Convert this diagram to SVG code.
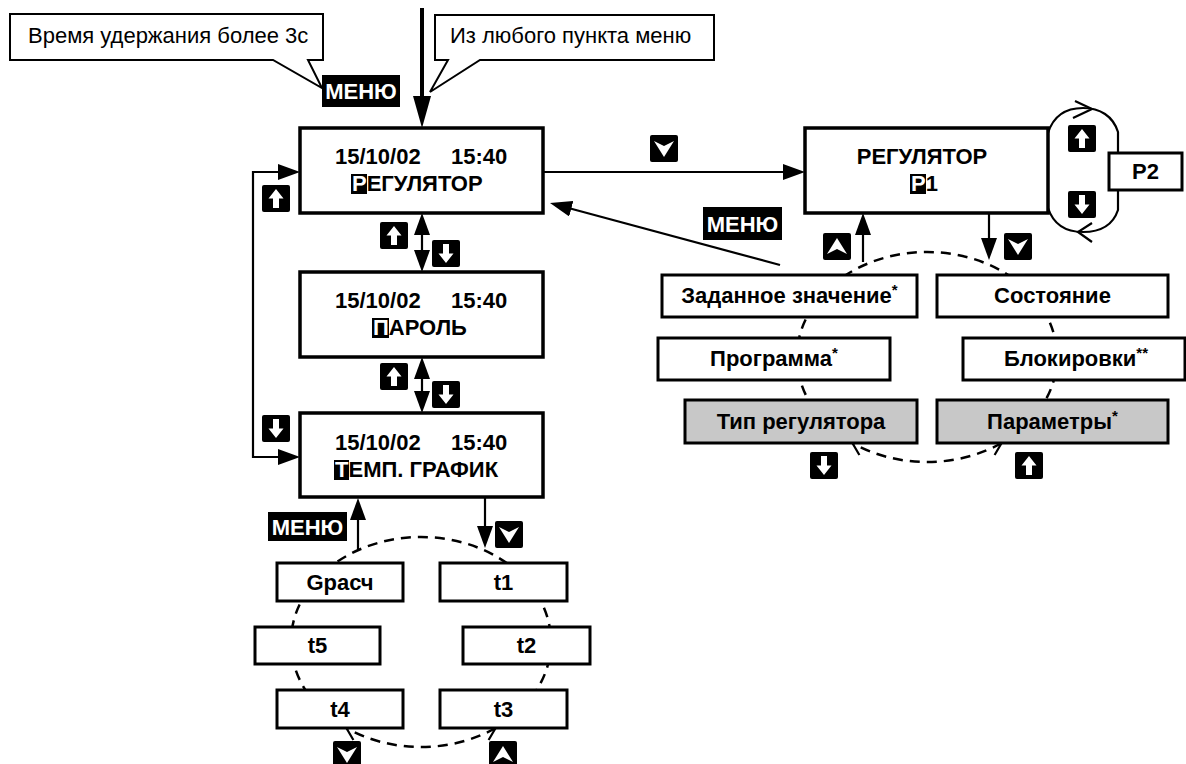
<svg xmlns="http://www.w3.org/2000/svg" width="1186" height="764" viewBox="0 0 1186 764">
<defs>
<style>
text{font-family:"Liberation Sans",Arial,sans-serif;fill:#000}
.b{font-weight:bold;font-size:22px}
.bm{font-weight:bold;font-size:22px;text-anchor:middle}
.w{fill:#fff}
.big{fill:#fff;stroke:#000;stroke-width:3.5}
.sm{fill:#fff;stroke:#000;stroke-width:3}
.gr{fill:#c8c8c8;stroke:#000;stroke-width:3}
.call{fill:#fff;stroke:#000;stroke-width:2}
.ln{fill:none;stroke:#000;stroke-width:2.2}
.thick{fill:none;stroke:#000;stroke-width:4}
.dash{fill:none;stroke:#000;stroke-width:2.5;stroke-dasharray:10 7}
.mt{font-weight:bold;font-size:22px;fill:#fff;text-anchor:middle}
.reg{font-size:22px}
.ast{font-size:15px}
</style>
<marker id="ah" markerUnits="userSpaceOnUse" markerWidth="22" markerHeight="16" refX="1" refY="8" orient="auto-start-reverse"><path d="M0,0 L22,8 L0,16 Z" fill="#000"/></marker>
<marker id="ahb" markerUnits="userSpaceOnUse" markerWidth="32" markerHeight="18" refX="1" refY="9" orient="auto-start-reverse"><path d="M0,0 L32,9 L0,18 Z" fill="#000"/></marker>
<marker id="oa" markerUnits="userSpaceOnUse" markerWidth="16" markerHeight="16" refX="14" refY="8" orient="auto-start-reverse"><path d="M2,1 L14,8 L2,15" fill="none" stroke="#000" stroke-width="2.2" stroke-dasharray="none"/></marker>
<symbol id="kup" viewBox="0 0 28 27"><rect width="28" height="27" rx="2" fill="#000"/><path d="M14,4 L6.5,13.5 H11 V23 H17 V13.5 H21.5 Z" fill="#fff"/></symbol>
<symbol id="kdn" viewBox="0 0 28 27"><rect width="28" height="27" rx="2" fill="#000"/><path d="M14,23 L6.5,13.5 H11 V4 H17 V13.5 H21.5 Z" fill="#fff"/></symbol>
<symbol id="ktu" viewBox="0 0 28 27"><rect width="28" height="27" rx="2" fill="#000"/><path d="M4,21 L14,16 L24,21 L14,5 Z" fill="#fff"/></symbol>
<symbol id="ktd" viewBox="0 0 28 27"><rect width="28" height="27" rx="2" fill="#000"/><path d="M4,6 L14,11 L24,6 L14,22 Z" fill="#fff"/></symbol>
</defs>
<rect width="1186" height="764" fill="#fff"/>

<g id="connectors">
  <path class="thick" d="M422,8 V97" marker-end="url(#ahb)"/>
  <path class="ln" d="M543,172 H784" marker-end="url(#ah)"/>
  <path class="ln" d="M422,234 V251" marker-start="url(#ah)" marker-end="url(#ah)"/>
  <path class="ln" d="M422,378 V392" marker-start="url(#ah)" marker-end="url(#ah)"/>
  <path class="ln" d="M279,172 H253 V457 H279" marker-start="url(#ah)" marker-end="url(#ah)"/>
  <path class="ln" d="M863,262 V234" marker-end="url(#ah)"/>
  <path class="ln" d="M989,213 V239" marker-end="url(#ah)"/>
  <path class="ln" d="M780,265 L570.3,208.5" marker-end="url(#ah)"/>
  <path class="ln" d="M358,550 V519" marker-end="url(#ah)"/>
  <path class="ln" d="M485,498 V527" marker-end="url(#ah)"/>
  <path class="dash" d="M346.4,728 A130,105 0 1 1 495.6,728"/>
  <path class="dash" d="M495.6,728 A130,105 0 0 1 346.4,728" marker-start="url(#oa)" marker-end="url(#oa)"/>
  <path class="dash" d="M852.4,443 A130,105 0 1 1 1001.6,443"/>
  <path class="dash" d="M1001.6,443 A130,105 0 0 1 852.4,443" marker-start="url(#oa)" marker-end="url(#oa)"/>
  <path class="ln" d="M1048,133 C1054,114 1068,108 1083,108 C1100,108 1113,116 1118,132 V210 C1113,225 1100,232 1083,232 C1068,232 1054,226 1048,208"/>
  <path class="ln" d="M1075,101 L1092,109 L1073,118"/>
  <path class="ln" d="M1092,223 L1078,232 L1092,242"/>
</g>

<g id="callout-hold">
  <path class="call" d="M10,14 H323 V60 H308 L322,88 L273,60 H10 Z"/>
  <text class="reg" x="28" y="43">Время удержания более 3с</text>
</g>
<g id="callout-any">
  <path class="call" d="M435,15 H714 V60 H480 L430,92 L448,60 H435 Z"/>
  <text class="reg" x="450" y="43">Из любого пункта меню</text>
</g>

<g id="menu-1"><rect x="322" y="75" width="78" height="32" fill="#000"/><text class="mt" x="361" y="99">МЕНЮ</text></g>
<g id="menu-2"><rect x="703" y="207" width="79" height="33" fill="#000"/><text class="mt" x="742.5" y="232">МЕНЮ</text></g>
<g id="menu-3"><rect x="268" y="512" width="79" height="29" fill="#000"/><text class="mt" x="307.5" y="535">МЕНЮ</text></g>

<g id="box-regulator">
  <rect class="big" x="300" y="128" width="243" height="85"/>
  <text class="b"><tspan x="335" y="164">15/10/02</tspan> <tspan x="451" y="164">15:40</tspan></text>
  <rect x="351" y="174" width="16" height="20" fill="#000"/>
  <text class="b" x="352" y="191"><tspan class="w">Р</tspan>ЕГУЛЯТОР</text>
</g>
<g id="box-password">
  <rect class="big" x="300" y="272" width="243" height="85"/>
  <text class="b"><tspan x="335" y="308">15/10/02</tspan> <tspan x="451" y="308">15:40</tspan></text>
  <rect x="372" y="318" width="17" height="20" fill="#000"/>
  <text class="b" x="373" y="335"><tspan class="w">П</tspan>АРОЛЬ</text>
</g>
<g id="box-temp">
  <rect class="big" x="300" y="413" width="243" height="84"/>
  <text class="b"><tspan x="335" y="450">15/10/02</tspan> <tspan x="451" y="450">15:40</tspan></text>
  <rect x="334" y="460" width="15" height="20" fill="#000"/>
  <text class="b" x="335" y="477"><tspan class="w">Т</tspan>ЕМП. ГРАФИК</text>
</g>
<g id="box-p1">
  <rect class="big" x="805" y="128" width="243" height="85"/>
  <text class="bm" x="922" y="164">РЕГУЛЯТОР</text>
  <rect x="910" y="174" width="16" height="20" fill="#000"/>
  <text class="b" x="911" y="191"><tspan class="w">P</tspan>1</text>
</g>
<g id="box-p2">
  <rect class="sm" x="1109" y="153" width="73" height="37"/>
  <text class="bm" x="1145.5" y="179">P2</text>
</g>

<g id="item-setpoint"><rect class="sm" x="662" y="275" width="255" height="42"/><text class="bm" x="789.5" y="303">Заданное значение<tspan class="ast" dy="-8">*</tspan></text></g>
<g id="item-state"><rect class="sm" x="937" y="275" width="231" height="42"/><text class="bm" x="1052.5" y="303">Состояние</text></g>
<g id="item-program"><rect class="sm" x="658" y="338" width="232" height="42"/><text class="bm" x="774" y="366">Программа<tspan class="ast" dy="-8">*</tspan></text></g>
<g id="item-locks"><rect class="sm" x="963" y="338" width="222" height="42"/><text class="bm" x="1076" y="366">Блокировки<tspan class="ast" dy="-8">**</tspan></text></g>
<g id="item-type"><rect class="gr" x="685" y="400" width="232" height="43"/><text class="bm" x="801" y="429">Тип регулятора</text></g>
<g id="item-params"><rect class="gr" x="937" y="400" width="231" height="43"/><text class="bm" x="1052.5" y="429">Параметры<tspan class="ast" dy="-8">*</tspan></text></g>

<g id="item-g"><rect class="sm" x="277" y="563" width="126" height="38"/><text class="bm" x="340" y="590">Gрасч</text></g>
<g id="item-t1"><rect class="sm" x="440" y="563" width="127" height="38"/><text class="bm" x="503.5" y="590">t1</text></g>
<g id="item-t5"><rect class="sm" x="255" y="627" width="125" height="37"/><text class="bm" x="317.5" y="653">t5</text></g>
<g id="item-t2"><rect class="sm" x="463" y="627" width="127" height="37"/><text class="bm" x="526.5" y="653">t2</text></g>
<g id="item-t4"><rect class="sm" x="277" y="690" width="126" height="38"/><text class="bm" x="340" y="717">t4</text></g>
<g id="item-t3"><rect class="sm" x="440" y="690" width="127" height="38"/><text class="bm" x="503.5" y="717">t3</text></g>

<g id="keys">
  <use href="#kup" x="262" y="185" width="28" height="27"/>
  <use href="#kdn" x="262" y="415" width="28" height="27"/>
  <use href="#kup" x="380" y="222" width="28" height="27"/>
  <use href="#kdn" x="432" y="240" width="28" height="27"/>
  <use href="#kup" x="380" y="363" width="28" height="27"/>
  <use href="#kdn" x="432" y="381" width="28" height="27"/>
  <use href="#ktd" x="650" y="135" width="28" height="27"/>
  <use href="#kup" x="1068" y="125" width="28" height="27"/>
  <use href="#kdn" x="1068" y="191" width="28" height="27"/>
  <use href="#ktu" x="823" y="233" width="28" height="27"/>
  <use href="#ktd" x="1004" y="233" width="28" height="27"/>
  <use href="#kdn" x="810" y="452" width="28" height="27"/>
  <use href="#kup" x="1015" y="452" width="28" height="27"/>
  <use href="#ktd" x="495" y="521" width="28" height="27"/>
  <use href="#ktd" x="333" y="741" width="28" height="27"/>
  <use href="#ktu" x="489" y="741" width="28" height="27"/>
</g>
</svg>
